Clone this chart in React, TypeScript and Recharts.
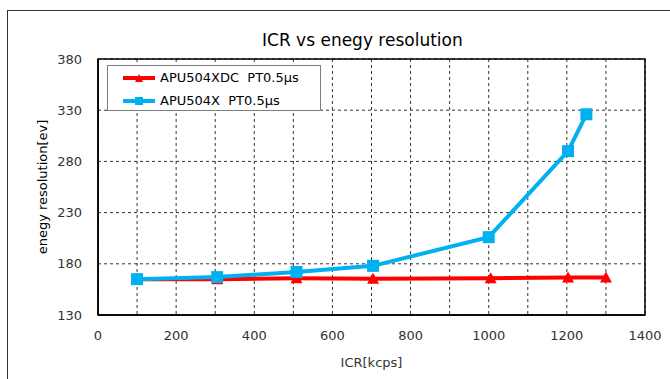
import React from 'react';
import { LineChart, Line, XAxis, YAxis, CartesianGrid, Legend, ReferenceArea, Label } from 'recharts';

const redName = 'APU504XDC  PT0.5μs';
const blueName = 'APU504X  PT0.5μs';
const redX = [100, 305, 508, 704, 1005, 1203, 1300];
const redY = [165, 165, 166, 165.5, 166, 166.5, 166.5];
const blueX = [100, 305, 508, 704, 1000, 1203, 1250];
const blueY = [165, 167, 172, 178, 206, 290, 326];
const xTicks = [0, 100, 200, 300, 400, 500, 600, 700, 800, 900, 1000, 1100, 1200, 1300, 1400];
const yTicks = [130, 180, 230, 280, 330, 380];
const title = 'ICR vs enegy resolution';
const xTitle = 'ICR[kcps]';
const yTitle = 'enegy resolution[ev]';

const RED = '#FF0000';
const BLUE = '#00B0F0';
const FONT = '"DejaVu Sans", Verdana, sans-serif';

const redData = redX.map((x, i) => ({ x, y: redY[i] }));
const blueData = blueX.map((x, i) => ({ x, y: blueY[i] }));

const Tri = (props: any) => {
  const { cx, cy, key } = props;
  if (cx == null || cy == null) return null;
  return <path key={key} d={`M${cx - 6},${cy + 5} L${cx + 6},${cy + 5} L${cx},${cy - 6} Z`} fill={RED} />;
};
const Sq = (props: any) => {
  const { cx, cy, key } = props;
  if (cx == null || cy == null) return null;
  return <rect key={key} x={cx - 6} y={cy - 6} width={12} height={12} fill={BLUE} />;
};

const LegendBox = () => {
  const row = (color: string, label: string, shape: 'tri' | 'sq') => (
    <div style={{ display: 'flex', alignItems: 'center', height: 23 }}>
      <svg width={36} height={14} style={{ marginLeft: 14, marginRight: 2 }}>
        <line x1={1} y1={7} x2={33} y2={7} stroke={color} strokeWidth={4} />
        {shape === 'tri' ? (
          <path d="M13,11 L21,11 L17,3 Z" fill={color} />
        ) : (
          <rect x={13} y={3} width={8} height={8} fill={color} />
        )}
      </svg>
      <span style={{ whiteSpace: 'pre', fontFamily: FONT, fontSize: 13, color: '#000' }}>{label}</span>
    </div>
  );
  return (
    <div style={{ border: '1px solid #7f7f7f', background: '#fff', width: 212, height: 44, boxSizing: 'content-box' }}>
      {row(RED, redName, 'tri')}
      {row(BLUE, blueName, 'sq')}
    </div>
  );
};

export default function App() {
  return (
    <div style={{ position: 'absolute', left: 0, top: 0, width: 670, height: 379, background: '#fff', overflow: 'hidden' }}>
      <div style={{ position: 'absolute', left: 7, top: 10, width: 700, height: 400, borderLeft: '1.5px solid #333', borderTop: '1.5px solid #333' }} />
      <div style={{ position: 'absolute', left: 262, width: 200, top: 30, textAlign: 'center', fontFamily: FONT, fontSize: 17, color: '#000', whiteSpace: 'nowrap' }}>{title}</div>
      <div style={{ position: 'absolute', left: 0, top: 0 }}>
        <LineChart width={670} height={379} margin={{ top: 59, right: 25, left: 0, bottom: 34 }}>
          <CartesianGrid stroke="#333" strokeDasharray="3 3" strokeWidth={1} />
          <XAxis
            dataKey="x"
            type="number"
            domain={[0, 1400]}
            ticks={xTicks}
            interval={0}
            tickFormatter={(v: number) => (v % 200 === 0 ? String(v) : '')}
            tickLine={false}
            tickSize={0}
            tickMargin={16}
            axisLine={{ stroke: '#000', strokeWidth: 1.5 }}
            tick={{ fill: '#333', fontSize: 13, fontFamily: FONT }}
            height={30}
            allowDuplicatedCategory={false}
          >
            <Label
              content={(p: any) => {
                const vb = p.viewBox || {};
                return (
                  <text x={vb.x + vb.width / 2} y={vb.y + 47} textAnchor="middle" dominantBaseline="central" fontFamily={FONT} fontSize={13} fill="#333">
                    {xTitle}
                  </text>
                );
              }}
            />
          </XAxis>
          <YAxis
            type="number"
            domain={[130, 380]}
            ticks={yTicks}
            interval={0}
            tickLine={false}
            tickSize={0}
            tickMargin={16}
            width={98}
            axisLine={{ stroke: '#000', strokeWidth: 1.5 }}
            tick={{ fill: '#333', fontSize: 13, fontFamily: FONT }}
          >
            <Label
              content={(p: any) => {
                const vb = p.viewBox || {};
                const cx = vb.x + 42;
                const cy = vb.y + vb.height / 2;
                return (
                  <text x={cx} y={cy} transform={`rotate(-90, ${cx}, ${cy})`} textAnchor="middle" dominantBaseline="central" fontFamily={FONT} fontSize={13} fill="#000">
                    {yTitle}
                  </text>
                );
              }}
            />
          </YAxis>
          <ReferenceArea x1={0} x2={1400} y1={130} y2={380} fill="none" stroke="#000" strokeWidth={1.5} ifOverflow="extendDomain" />
          <Line data={redData} dataKey="y" name={redName} stroke={RED} strokeWidth={4} dot={Tri} activeDot={false} isAnimationActive={false} />
          <Line data={blueData} dataKey="y" name={blueName} stroke={BLUE} strokeWidth={4} dot={Sq} activeDot={false} isAnimationActive={false} />
          <Legend
            layout="vertical"
            align="center"
            verticalAlign="middle"
            content={() => <LegendBox />}
            wrapperStyle={{ left: 107, top: 65, width: 214, height: 46 }}
          />
        </LineChart>
      </div>
    </div>
  );
}
